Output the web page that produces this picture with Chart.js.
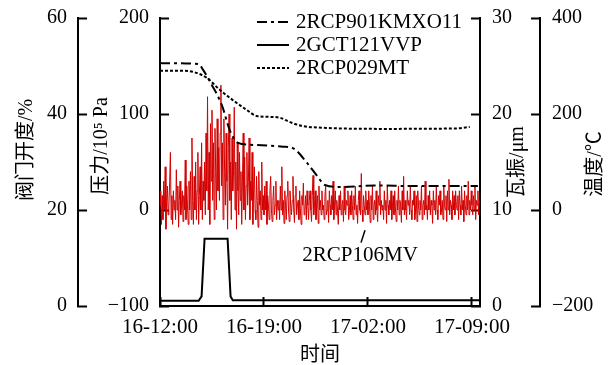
<!DOCTYPE html>
<html>
<head>
<meta charset="utf-8">
<script src="https://cdn.jsdelivr.net/npm/chart.js@4.4.1/dist/chart.umd.min.js"></script>
<style>
  html, body { margin: 0; padding: 0; background: #fff; }
</style>
</head>
<body>
<canvas id="chart" width="610" height="365"></canvas>
<script>
// hours since 16-12:00
const timeTicks = [0, 7, 14, 21];
const timeLabels = ["16-12:00", "16-19:00", "17-02:00", "17-09:00"];

const seriesNames = ["2RCP901KMXO11", "2GCT121VVP", "2RCP029MT", "2RCP106MV"];

// 2RCP901KMXO11, pressure (10^5 Pa)
const pressHours  = [0, 2.6, 2.9, 3.5, 4.17, 4.7, 5.25, 6.06, 8.3, 9.0, 9.9, 10.6, 11.1, 12.1, 14.5, 17, 21.4];
const pressValues = [153, 152, 146, 130, 109, 83, 70, 68, 66, 64, 49, 35, 26, 24, 25.5, 25, 25];

// 2GCT121VVP, valve opening (%)
const valveHours  = [0, 2.6, 2.8, 3.0, 4.55, 4.75, 4.9, 21.54];
const valveValues = [1.1, 1.1, 2, 14, 14, 2, 1.2, 1.2];

// 2RCP029MT, temperature (°C)
const tempHours  = [0, 1.5, 2.2, 3.16, 4.04, 4.9, 5.86, 6.5, 7.4, 8.1, 8.75, 9.6, 11.2, 15, 20, 20.85];
const tempValues = [290, 290, 288, 275, 250, 229, 208, 196, 194, 192, 183, 175, 171, 169, 170, 173];

// 2RCP106MV, vibration (μm), one reading every 0.05 h (one row = one hour)
const vibStep = 0.05;
const vibValues = [
  10.5, 12, 8.5, 11.5, 9, 13, 10, 14.5, 8, 11, 12.5, 9.5, 10.5, 13, 16, 9, 11.5, 8.5, 12, 10,
  11, 9, 14.2, 10, 12.5, 8.2, 11, 13, 9.5, 10.5, 12, 8.8, 11.5, 10, 15.2, 9, 12.5, 10.5, 8.5, 13,
  10, 14, 9, 17.5, 11, 8.5, 13.5, 10, 15, 9, 12, 16, 8.5, 11.5, 14.5, 10, 17, 9, 13, 11,
  15, 9.5, 18, 12, 21.8, 10, 16, 8.5, 19, 13, 20.4, 11, 17, 9, 18.5, 14, 10, 19.5, 12, 16.5,
  11, 18, 23, 12.5, 17, 9, 19.5, 14, 10.5, 18, 13, 8, 16.5, 20, 11, 15, 9, 17.5, 12, 14,
  20.7, 10, 15, 8, 17, 12, 9.5, 16, 11, 14, 8.5, 13, 18, 10, 15.5, 9, 12.5, 16, 10.5, 13,
  17.5, 9, 13, 11, 16, 8.5, 12, 14.5, 10, 9, 13.5, 11, 8.2, 14, 10.5, 12, 9, 15, 10, 11.5,
  9.5, 12.5, 10, 13, 8.5, 11.5, 10.5, 9, 12, 13.5, 10, 8.8, 11, 12.5, 9.5, 10.5, 13, 9, 11, 10,
  11, 9, 12.5, 10, 14.5, 9.5, 11, 8.6, 12, 10.5, 9, 11.5, 13, 10, 8.8, 12, 10.5, 9.5, 11, 13.5,
  10, 8.7, 11.5, 12.5, 9.5, 10.5, 11, 9, 12, 10, 8.5, 11.5, 10.5, 12.8, 9.5, 10, 11.5, 9, 12, 10.5,
  9, 11, 12, 10, 8.8, 11.5, 13.6, 9.5, 10.5, 12, 9, 10.5, 11.5, 8.6, 12.5, 10, 11, 9.5, 12, 10,
  10.5, 9, 11.5, 12.5, 9.5, 10, 11, 8.7, 12, 10.5, 9.5, 11.5, 10, 13, 9, 10.5, 12, 9.5, 11, 10,
  8.5, 11.5, 10, 12, 9.5, 10.5, 11, 8.8, 12.5, 10, 9.5, 11, 10.5, 12, 9, 10, 11.5, 9.5, 12, 10.5,
  9, 11.5, 10, 12.5, 9.5, 10.5, 8.6, 11, 12, 10, 9.5, 13.8, 10, 8.8, 11.5, 10.5, 9.5, 12, 10, 11,
  9.5, 12, 10.5, 8.7, 11.5, 10, 12.5, 9, 10.5, 11, 9.5, 12, 10, 8.8, 11.5, 10.5, 13, 9.5, 11, 10,
  10.5, 9, 12, 10, 11, 8.6, 12.5, 10.5, 9.5, 11, 10, 12, 9, 10.5, 11.5, 9.5, 12, 10, 8.8, 11,
  10, 12.5, 9.5, 11, 10.5, 8.7, 12, 10, 13.5, 9.5, 11, 10, 9, 12, 10.5, 11, 9.5, 12.5, 10, 9,
  11, 10.5, 12, 9, 10, 11.5, 8.8, 12, 10.5, 9.5, 11, 10, 12.5, 9, 10.5, 11, 9.5, 13, 10, 10.5,
  9, 11.5, 10, 12, 9.5, 11, 10.5, 8.6, 12, 10, 11, 9.5, 12.5, 10, 9, 11.5, 10.5, 12, 9.5, 10,
  11, 9, 12.5, 10.5, 10, 11.5, 8.8, 12, 10, 13.2, 9.5, 11, 10.5, 9, 12, 10, 11.5, 9.5, 12, 10.5,
  10, 11.5, 9, 12, 10.5, 9.5, 12.5, 10, 11, 8.8, 12, 10.5, 9.5, 11.5, 10, 13, 9.5, 11, 10, 12,
  10.5, 9.5, 11.5, 10, 12.5, 9, 11, 10.5, 12, 9.5, 11
];

const SERIF = "'Liberation Serif', 'Times New Roman', 'Noto Sans CJK SC', serif";

function pairs(xs, ys) {
  return xs.map((x, i) => ({ x: x, y: ys[i] }));
}

function minusSign(v) {
  return String(v).replace("-", "\u2212");
}

function yAxis(position, min, max, step, width, weight) {
  return {
    type: "linear",
    position: position,
    min: min,
    max: max,
    weight: weight,
    ticks: {
      stepSize: step,
      padding: position === "left" ? 20 : 21,
      color: "#000",
      font: { family: SERIF, size: 20 },
      callback: minusSign
    },
    grid: { drawOnChartArea: false, tickLength: -9, tickWidth: 2, tickColor: "#000" },
    border: { color: "#000", width: 2 },
    afterFit: (s) => {
      s.width = width;
      s.paddingTop = 0;
      s.paddingBottom = 0;
    }
  };
}

// axis titles (right ones read bottom-to-top), legend and the 2RCP106MV label
const decorations = {
  id: "decorations",
  afterDatasetsDraw(chart) {
    const { ctx, chartArea, scales } = chart;
    const midY = (chartArea.top + chartArea.bottom) / 2;

    function vTitle(text, x, y) {
      ctx.save();
      ctx.translate(x, y);
      ctx.rotate(-Math.PI / 2);
      ctx.font = "20px " + SERIF;
      ctx.fillStyle = "#000";
      ctx.textAlign = "center";
      ctx.textBaseline = "middle";
      ctx.fillText(text, 0, 0);
      ctx.restore();
    }
    vTitle("阀门开度/%", scales.yValve.left + 27, midY - 12);
    vTitle("压力/10\u2075 Pa", scales.yPress.left + 24, midY - 16);
    vTitle("瓦振/μm", scales.yVib.left + 38, midY);
    vTitle("温度/℃", scales.yTemp.left + 56, midY + 2);

    // legend
    const order = [0, 1, 2];
    ctx.save();
    ctx.font = "21px " + SERIF;
    ctx.fillStyle = "#000";
    ctx.textBaseline = "middle";
    order.forEach((di, row) => {
      const ds = chart.data.datasets[di];
      const y = chartArea.top + 4 + row * 23;
      const x0 = chartArea.left + 97;
      ctx.beginPath();
      ctx.setLineDash(ds.borderDash || []);
      ctx.lineWidth = ds.borderWidth;
      ctx.strokeStyle = ds.borderColor;
      ctx.moveTo(x0, y);
      ctx.lineTo(x0 + 32, y);
      ctx.stroke();
      ctx.setLineDash([]);
      ctx.fillText(ds.label, x0 + 39, y);
    });
    ctx.restore();

    // annotation for the vibration trace
    const xs = scales.x, yv = scales.yVib;
    ctx.save();
    ctx.strokeStyle = "#000";
    ctx.lineWidth = 1.5;
    ctx.beginPath();
    ctx.moveTo(xs.getPixelForValue(13.8), yv.getPixelForValue(7.9));
    ctx.lineTo(xs.getPixelForValue(13.53), yv.getPixelForValue(6.6));
    ctx.stroke();
    ctx.font = "21px " + SERIF;
    ctx.fillStyle = "#000";
    ctx.textAlign = "center";
    ctx.textBaseline = "middle";
    ctx.fillText(seriesNames[3], xs.getPixelForValue(13.47), yv.getPixelForValue(5.3));
    ctx.restore();
  }
};

new Chart(document.getElementById("chart"), {
  type: "line",
  data: {
    datasets: [
      {
        label: seriesNames[0],
        data: pairs(pressHours, pressValues),
        yAxisID: "yPress",
        borderColor: "#000",
        borderWidth: 2,
        borderDash: [10, 4, 3, 4],
        cubicInterpolationMode: "monotone",
        pointRadius: 0,
        order: 1
      },
      {
        label: seriesNames[1],
        data: pairs(valveHours, valveValues),
        yAxisID: "yValve",
        borderColor: "#000",
        borderWidth: 2,
        tension: 0,
        pointRadius: 0,
        order: 2
      },
      {
        label: seriesNames[2],
        data: pairs(tempHours, tempValues),
        yAxisID: "yTemp",
        borderColor: "#000",
        borderWidth: 2,
        borderDash: [3, 2],
        cubicInterpolationMode: "monotone",
        pointRadius: 0,
        order: 3
      },
      {
        label: seriesNames[3],
        data: vibValues.map((v, i) => ({ x: i * vibStep, y: v })),
        yAxisID: "yVib",
        borderColor: "rgb(210,0,0)",
        borderWidth: 1,
        tension: 0,
        pointRadius: 0,
        order: 10
      }
    ]
  },
  options: {
    responsive: false,
    animation: false,
    devicePixelRatio: 1,
    layout: { padding: { top: 18, left: 0, right: 0, bottom: 0 } },
    plugins: { legend: { display: false }, tooltip: { enabled: false } },
    scales: {
      x: {
        type: "linear",
        position: "bottom",
        min: 0,
        max: 21.54,
        afterBuildTicks: (s) => { s.ticks = timeTicks.map(v => ({ value: v })); },
        ticks: {
          color: "#000",
          padding: 18,
          maxRotation: 0,
          autoSkip: false,
          font: { family: SERIF, size: 21 },
          callback: (v) => timeLabels[timeTicks.indexOf(v)] ?? ""
        },
        grid: { drawOnChartArea: false, tickLength: -9, tickWidth: 2, tickColor: "#000" },
        border: { color: "#000", width: 2 },
        title: {
          display: true,
          text: "时间",
          color: "#000",
          font: { family: SERIF, size: 20 },
          padding: { top: 0, bottom: -3 }
        },
        afterFit: (s) => { s.height = 59; }
      },
      yPress: yAxis("left", -100, 200, 100, 82, 0),
      yValve: yAxis("left", 0, 60, 20, 78, 1),
      yVib: yAxis("right", 0, 30, 10, 60, 0),
      yTemp: yAxis("right", -200, 400, 200, 70, 1)
    }
  },
  plugins: [decorations]
});
</script>
</body>
</html>
